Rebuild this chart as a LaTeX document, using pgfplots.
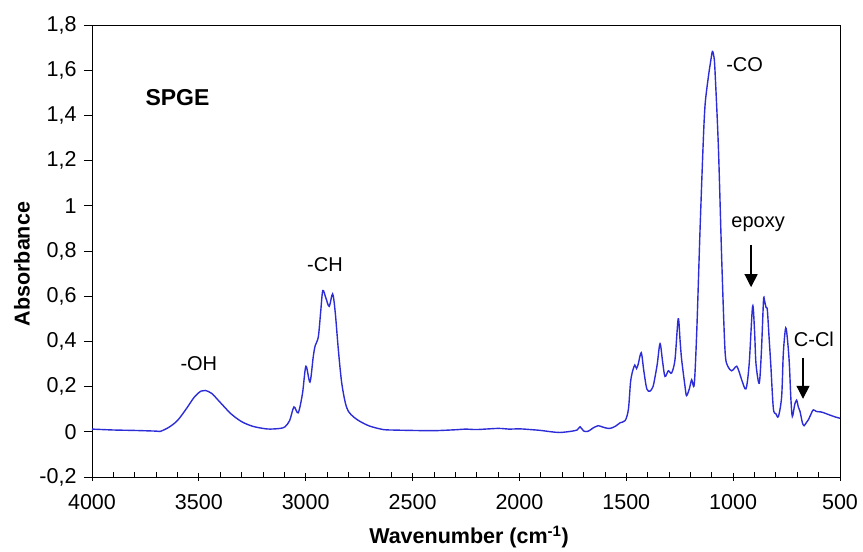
\documentclass[border=0pt]{standalone}
\usepackage{pgfplots}
\pgfplotsset{compat=1.18}
\usepackage{fontspec}
\setmainfont{Liberation Sans}
\usetikzlibrary{arrows.meta}
\definecolor{specblue}{RGB}{45,45,215}
\begin{document}
\begin{tikzpicture}
\begin{axis}[
  font=\fontsize{21.5bp}{25bp}\selectfont,
  tick label style={font=\fontsize{21.5bp}{25bp}\selectfont},
  scale only axis,
  width=748bp, height=452bp,
  xmin=500, xmax=4000, ymin=-0.2, ymax=1.8,
  x dir=reverse,
  xtick={500,1000,...,4000},
  minor x tick num=4,
  ytick={-0.2,0,0.2,...,1.8},
  xtick pos=bottom, ytick pos=left,
  tick align=outside,
  major tick length=8bp, minor tick length=5bp,
  x tick style={black, line width=0.8bp},
  major x tick style={yshift=4bp},
  minor x tick style={yshift=5bp},
  y tick style={black, line width=0.8bp},
  axis line style={black, line width=0.9bp},
  /pgf/number format/assume math mode=true,
  /pgf/number format/use comma,
  /pgf/number format/1000 sep={},
  /pgf/number format/fixed,
  yticklabel style={/pgf/number format/precision=1, xshift=-4bp},
  xticklabel style={yshift=-6bp},
  every axis x label/.style={at={(axis description cs:0.504,-0.133)}, anchor=center, font=\fontsize{21.5bp}{25bp}\selectfont\bfseries},
  every axis y label/.style={at={(axis description cs:-0.0936,0.471)}, rotate=90, anchor=center, font=\fontsize{21.5bp}{25bp}\selectfont\bfseries},
  xlabel={Wavenumber (cm\textsuperscript{-1})},
  ylabel={Absorbance},
  clip=true,
]
\addplot[color=specblue, line width=1.4bp, smooth, tension=0.5] coordinates {
(4000,0.012) (3900,0.008) (3800,0.006) (3700,0.003) (3680,0.002) (3640,0.02)
(3600,0.05) (3560,0.10) (3520,0.155) (3490,0.18) (3470,0.183) (3440,0.17)
(3400,0.13) (3350,0.08) (3300,0.045) (3250,0.025) (3200,0.015) (3167,0.012)
(3120,0.015) (3097,0.022) (3075,0.05) (3055,0.11) (3035,0.084) (3015,0.17)
(2999,0.29) (2980,0.22) (2965,0.33) (2956,0.38) (2941,0.42) (2930,0.53)
(2920,0.625) (2905,0.59) (2890,0.555) (2874,0.61) (2862,0.53) (2847,0.36)
(2832,0.22) (2815,0.13) (2800,0.09) (2775,0.065) (2746,0.046) (2700,0.025)
(2638,0.01) (2600,0.008) (2500,0.006) (2400,0.005) (2300,0.009) (2250,0.012)
(2200,0.01) (2100,0.015) (2050,0.012) (2000,0.013) (1950,0.01) (1900,0.006)
(1850,0.0) (1810,-0.003) (1760,0.002) (1730,0.008) (1716,0.022) (1700,0.004)
(1680,0.002) (1650,0.02) (1632,0.027) (1600,0.018) (1576,0.015) (1550,0.025)
(1529,0.04) (1505,0.05) (1490,0.1) (1480,0.22) (1470,0.27) (1460,0.295)
(1452,0.28) (1444,0.30) (1430,0.35) (1418,0.27) (1404,0.19) (1389,0.18)
(1375,0.2) (1366,0.24) (1355,0.3) (1342,0.39) (1330,0.31) (1319,0.245)
(1303,0.27) (1288,0.26) (1272,0.32) (1257,0.50) (1248,0.40) (1241,0.32)
(1225,0.2) (1218,0.16) (1205,0.19) (1194,0.23) (1182,0.21) (1170,0.45)
(1155,0.89) (1140,1.28) (1131,1.45) (1116,1.57) (1105,1.64) (1097,1.683)
(1090,1.66) (1085,1.60) (1069,1.26) (1053,0.75) (1038,0.36) (1025,0.29)
(1007,0.27) (995,0.28) (983,0.29) (970,0.26) (960,0.23) (940,0.19)
(925,0.3) (909,0.555) (900,0.45) (893,0.30) (878,0.215) (868,0.35)
(858,0.58) (854,0.584) (846,0.55) (840,0.54) (832,0.42) (824,0.30)
(812,0.105) (800,0.08) (788,0.068) (773,0.156) (765,0.35) (754,0.46)
(745,0.40) (737,0.30) (730,0.15) (723,0.068) (712,0.12) (703,0.14)
(695,0.11) (687,0.09) (676,0.04) (668,0.027) (658,0.04) (648,0.053)
(635,0.08) (625,0.097) (610,0.09) (590,0.088) (578,0.085) (550,0.075)
(520,0.065) (500,0.06)
};
\node[font=\fontsize{23bp}{27bp}\selectfont\bfseries] at (axis cs:3600,1.48) {SPGE};
\node[font=\fontsize{20bp}{24bp}\selectfont] at (axis cs:3500,0.30) {-OH};
\node[font=\fontsize{20bp}{24bp}\selectfont] at (axis cs:2910,0.74) {-CH};
\node[font=\fontsize{20bp}{24bp}\selectfont, anchor=west, inner sep=0pt] at (axis cs:1033,1.624) {-CO};
\node[font=\fontsize{20bp}{24bp}\selectfont] at (axis cs:883,0.92) {epoxy};
\node[font=\fontsize{20bp}{24bp}\selectfont] at (axis cs:622,0.41) {C-Cl};
\draw[-{Triangle[width=13bp,length=13bp]}, line width=1.2bp] (axis cs:916,0.827) -- (axis cs:916,0.64);
\draw[-{Triangle[width=13bp,length=13bp]}, line width=1.2bp] (axis cs:673,0.327) -- (axis cs:673,0.146);
\end{axis}
\path (current axis.south west) ++(-92bp,-73bp) rectangle ++(863bp,550bp);
\end{tikzpicture}
\end{document}
